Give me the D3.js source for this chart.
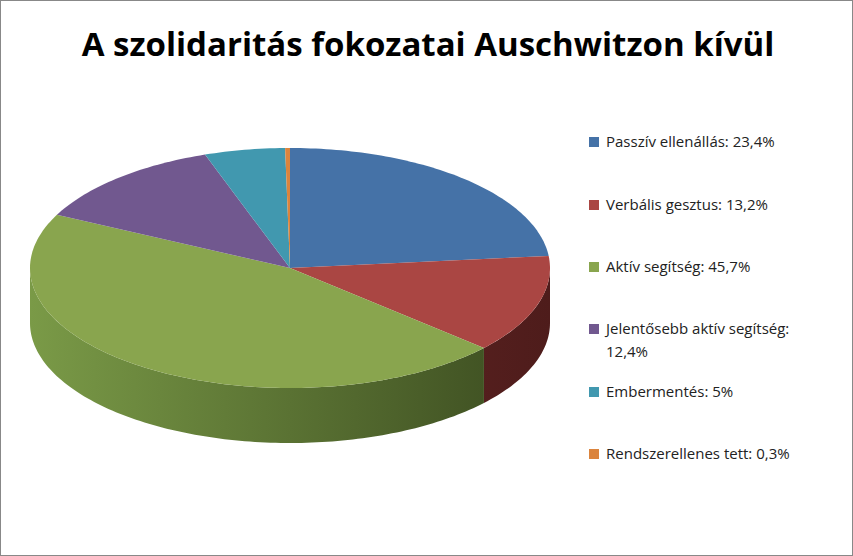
<!DOCTYPE html><html><head><meta charset="utf-8">
<script src="https://cdn.jsdelivr.net/npm/d3@7"></script>
<style>body{margin:0;background:#fff}</style></head><body>
<svg id="c" width="853" height="556"></svg>
<script>
const categories=["Passzív ellenállás","Verbális gesztus","Aktív segítség","Jelentősebb aktív segítség","Embermentés","Rendszerellenes tett"];
const values=[23.4,13.2,45.7,12.4,5,0.3];
const labels=["Passzív ellenállás: 23,4%","Verbális gesztus: 13,2%","Aktív segítség: 45,7%","Jelentősebb aktív segítség:|12,4%","Embermentés: 5%","Rendszerellenes tett: 0,3%"];
const colors=["#4572a7","#aa4643","#89a54e","#71588f","#4198af","#db843d"];
const sideDark=["#233a56","#4e1c1b","#3a4a1f","#392c48","#205060","#6e421e"];
const sideLight=["#3b5f8c","#7a2f2d","#7a9a47","#5c4775","#357c8f","#b56c30"];
const svg=d3.select("#c");
svg.append("rect").attr("x",0.5).attr("y",0.5).attr("width",852).attr("height",555).attr("fill","#fff").attr("stroke","#888");
svg.append("text").attr("x",428).attr("y",56).attr("text-anchor","middle").attr("font-family","Open Sans, sans-serif").attr("font-weight","bold").attr("font-size",33).text("A szolidaritás fokozatai Auschwitzon kívül");
const cx=290,cy=268,rx=260,ry=120,depth=55;
const pie=d3.pie().sort(null).value(d=>d)(values);
const P=(a,dy=0)=>[cx+rx*Math.sin(a),cy-ry*Math.cos(a)+dy];
const defs=svg.append("defs");
function arcPts(a0,a1,dy){const n=Math.max(2,Math.ceil((a1-a0)/0.02));return d3.range(n+1).map(i=>P(a0+(a1-a0)*i/n,dy));}
const line=d3.line();
// sides
pie.forEach((s,i)=>{
  const a0=Math.max(s.startAngle,Math.PI/2),a1=Math.min(s.endAngle,3*Math.PI/2);
  if(a1<=a0)return;
  const g=defs.append("linearGradient").attr("id","g"+i).attr("gradientUnits","userSpaceOnUse").attr("x1",cx-rx).attr("x2",cx+rx).attr("y1",0).attr("y2",0);
  g.append("stop").attr("offset",0).attr("stop-color",sideLight[i]);
  g.append("stop").attr("offset",1).attr("stop-color",sideDark[i]);
  const pts=arcPts(a0,a1,0).concat(arcPts(a0,a1,depth).reverse());
  svg.append("path").attr("d",line(pts)+"Z").attr("fill","url(#g"+i+")");
});
// tops
pie.forEach((s,i)=>{
  const pts=[[cx,cy]].concat(arcPts(s.startAngle,s.endAngle,0));
  svg.append("path").attr("d",line(pts)+"Z").attr("fill",colors[i]);
});
// legend
const ly=[142,205,267,329,392,454];
labels.forEach((t,i)=>{
  svg.append("rect").attr("x",589).attr("y",ly[i]-5).attr("width",10).attr("height",10).attr("fill",colors[i]);
  const tx=svg.append("text").attr("x",606).attr("y",ly[i]+5).attr("font-family","Open Sans, sans-serif").attr("font-size",15).attr("fill","#222");
  t.split("|").forEach((p,j)=>tx.append("tspan").attr("x",606).attr("dy",j?23:0).text(p));
});
</script></body></html>
